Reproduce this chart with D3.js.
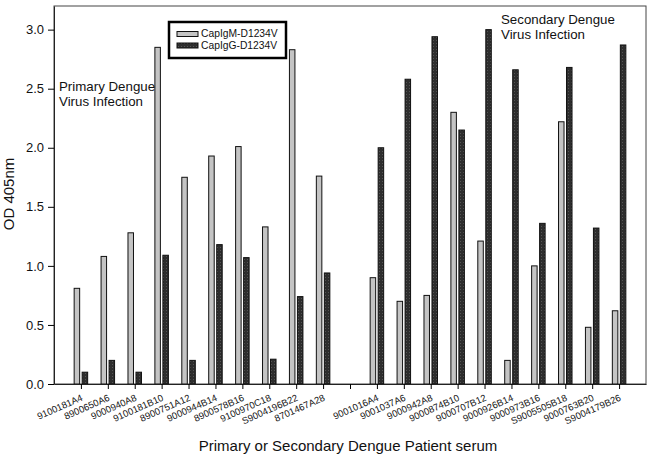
<!DOCTYPE html>
<html><head><meta charset="utf-8">
<script src="https://cdn.jsdelivr.net/npm/d3@7"></script>
<style>body{margin:0;background:#fff}svg{display:block}text{font-family:"Liberation Sans",Arial,sans-serif}</style>
</head><body>
<svg id="c" width="653" height="458"></svg>
<script>
const categories = ["9100181A4","8900650A6","9000940A8","9100181B10","8900751A12","9000944B14","8900578B16","9100970C18","S9004196B22","8701467A28","",
  "9001016A4","9001037A6","9000942A8","9000874B10","9000707B12","9000926B14","9000973B16","S9005505B18","9000763B20","S9004179B26"];
const igm = [0.81,1.08,1.28,2.85,1.75,1.93,2.01,1.33,2.83,1.76,null,0.90,0.70,0.75,2.30,1.21,0.20,1.00,2.22,0.48,0.62];
const igg = [0.10,0.20,0.10,1.09,0.20,1.18,1.07,0.21,0.74,0.94,null,2.00,2.58,2.94,2.15,3.00,2.66,1.36,2.68,1.32,2.87];
const seriesNames = ["CapIgM-D1234V","CapIgG-D1234V"];
const yTicks = [0,0.5,1.0,1.5,2.0,2.5,3.0];

const svg = d3.select("#c");
const L=54,R=646,T=6,B=384;
const x = d3.scaleLinear().domain([0,categories.length+1]).range([L,R]);
const y = d3.scaleLinear().domain([0,3.2]).range([B,T]);

const defs = svg.append("defs");
const pat = defs.append("pattern").attr("id","dk").attr("patternUnits","userSpaceOnUse").attr("width",3).attr("height",3);
pat.append("rect").attr("width",3).attr("height",3).attr("fill","#2e2e2e");
pat.append("rect").attr("x",1).attr("y",1).attr("width",1).attr("height",1).attr("fill","#555");

// frame
svg.append("rect").attr("x",L).attr("y",T).attr("width",R-L).attr("height",B-T).attr("fill","none").attr("stroke","#444").attr("stroke-width",1);

const bw=5.5, gap=2.5;
const idx = d3.range(categories.length);
svg.append("g").selectAll("rect").data(idx.filter(i=>igm[i]!=null)).join("rect")
  .attr("x",i=>x(i+1)-gap/2-bw).attr("width",bw)
  .attr("y",i=>y(igm[i])).attr("height",i=>B-y(igm[i]))
  .attr("fill","#c4c4c4").attr("stroke","#111").attr("stroke-width",1);
svg.append("g").selectAll("rect").data(idx.filter(i=>igg[i]!=null)).join("rect")
  .attr("x",i=>x(i+1)+gap/2).attr("width",bw)
  .attr("y",i=>y(igg[i])).attr("height",i=>B-y(igg[i]))
  .attr("fill","url(#dk)").attr("stroke","#111").attr("stroke-width",1);

// y axis
const ya = svg.append("g").attr("transform",`translate(${L},0)`)
  .call(d3.axisLeft(y).tickValues(yTicks).tickFormat(d3.format(".1f")).tickSize(6).tickSizeOuter(0));
ya.select(".domain").attr("stroke","#222");
ya.selectAll("text").attr("font-size",13).attr("fill","#111").attr("dx",-1);

// x axis
const xa = svg.append("g").attr("transform",`translate(0,${B})`)
  .call(d3.axisBottom(x).tickValues(idx.map(i=>i+1)).tickFormat(d=>categories[d-1]).tickSize(5).tickSizeOuter(0));
xa.select(".domain").attr("stroke","#222");
xa.selectAll("text").attr("font-size",9.5).attr("fill","#111")
  .attr("text-anchor","end").attr("dy",null).attr("y",null)
  .attr("transform","translate(2,16) rotate(-24)");

// titles
svg.append("text").attr("x",348).attr("y",451).attr("text-anchor","middle").attr("font-size",15).attr("fill","#111").text("Primary or Secondary Dengue Patient serum");
svg.append("text").attr("transform","translate(14,194) rotate(-90)").attr("text-anchor","middle").attr("font-size",15).attr("fill","#111").text("OD 405nm");

// annotations
const ann = svg.append("g").attr("font-size",13.3).attr("fill","#111");
ann.append("text").attr("x",59).attr("y",91).text("Primary Dengue");
ann.append("text").attr("x",59).attr("y",106).text("Virus Infection");
ann.append("text").attr("x",501).attr("y",24).text("Secondary Dengue");
ann.append("text").attr("x",501).attr("y",39).text("Virus Infection");

// legend
const lg = svg.append("g");
lg.append("rect").attr("x",169).attr("y",22).attr("width",117).attr("height",36).attr("fill","#fff").attr("stroke","#000").attr("stroke-width",2.5);
lg.append("rect").attr("x",177).attr("y",31.5).attr("width",21).attr("height",5).attr("fill","#c4c4c4").attr("stroke","#111").attr("stroke-width",1);
lg.append("rect").attr("x",177).attr("y",43).attr("width",21).attr("height",5).attr("fill","url(#dk)").attr("stroke","#111").attr("stroke-width",1);
lg.append("text").attr("x",201).attr("y",37).attr("font-size",10.3).attr("fill","#111").text(seriesNames[0]);
lg.append("text").attr("x",201).attr("y",48.5).attr("font-size",10.3).attr("fill","#111").text(seriesNames[1]);
</script>
</body></html>
